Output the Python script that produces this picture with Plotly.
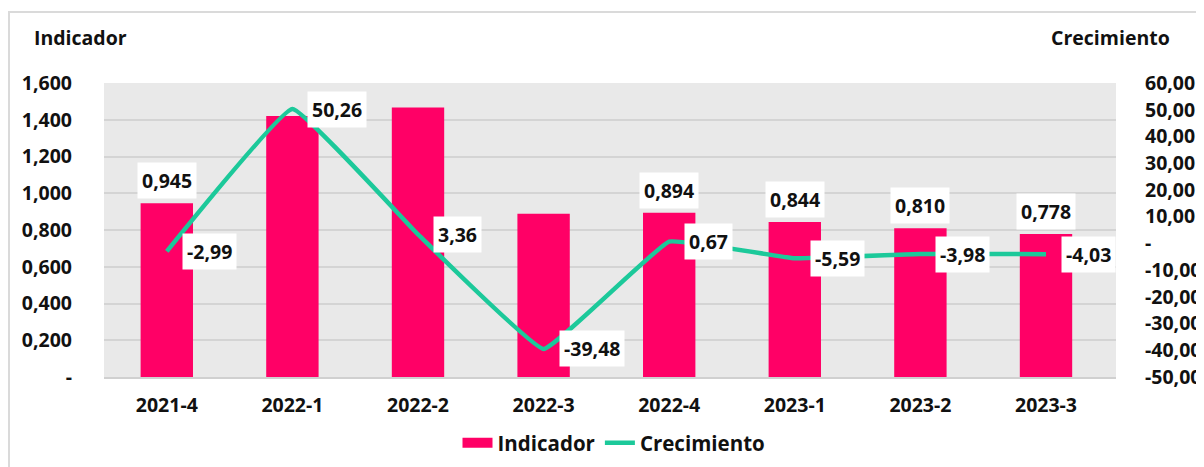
import plotly.graph_objects as go

categories = ["2021-4", "2022-1", "2022-2", "2022-3", "2022-4", "2023-1", "2023-2", "2023-3"]
indicador = [0.945, 1.420, 1.467, 0.888, 0.894, 0.844, 0.810, 0.778]
crecimiento = [-2.99, 50.26, 3.36, -39.48, 0.67, -5.59, -3.98, -4.03]
bar_label_show = [True, False, False, False, True, True, True, True]

left_ticks = [0, 0.2, 0.4, 0.6, 0.8, 1.0, 1.2, 1.4, 1.6]
left_ticktext = ["-", "0,200", "0,400", "0,600", "0,800", "1,000", "1,200", "1,400", "1,600"]
right_ticks = [-50, -40, -30, -20, -10, 0, 10, 20, 30, 40, 50, 60]
right_ticktext = ["-50,00", "-40,00", "-30,00", "-20,00", "-10,00", "-",
                  "10,00", "20,00", "30,00", "40,00", "50,00", "60,00"]

PINK = "#FF0066"
TEAL = "#1CC99A"
FONT = "Open Sans"
FS = 19.5
TF = dict(family=FONT, size=FS, color="#111", weight="bold")

# plot area in page pixels (page has an 8px body margin)
PL, PR, PT, PB = 104, 1116, 83, 377
OFF = 8
PW, PH = PR - PL, PB - PT

def px(x):
    return (x - PL) / PW

def py(y):
    return (PB - y) / PH

fig = go.Figure()
fig.add_trace(go.Bar(x=categories, y=indicador, name="Indicador", showlegend=False,
                     marker=dict(color=PINK, line=dict(width=0)), yaxis="y"))
fig.add_trace(go.Scatter(x=[None], y=[None], name="Indicador", mode="lines",
                         line=dict(color=PINK, width=13), yaxis="y"))
fig.add_trace(go.Scatter(x=categories, y=crecimiento, name="Crecimiento", mode="lines",
                         line=dict(color=TEAL, width=4.5, shape="spline", smoothing=0.25),
                         yaxis="y2"))

annotations = []
for c, v, s in zip(categories, indicador, bar_label_show):
    if s:
        annotations.append(dict(x=c, y=v, xref="x", yref="y", text=f"{v:.3f}".replace(".", ","),
                                showarrow=False, yanchor="bottom", yshift=4, bgcolor="white",
                                borderpad=4, font=TF))
for c, v in zip(categories, crecimiento):
    annotations.append(dict(x=c, y=v, xref="x", yref="y2", text=f"{v:.2f}".replace(".", ","),
                            showarrow=False, xanchor="left", yanchor="middle", xshift=15,
                            bgcolor="white", borderpad=4, font=TF))
annotations.append(dict(x=px(32), y=py(38), xref="paper", yref="paper",
                        text="Indicador", showarrow=False, xanchor="left", yanchor="middle", font=TF))
annotations.append(dict(x=px(1049), y=py(38), xref="paper", yref="paper",
                        text="Crecimiento", showarrow=False, xanchor="left", yanchor="middle", font=TF))

fig.update_layout(
    width=1204, height=467,
    margin=dict(l=PL - OFF, r=1204 - (PR - OFF), t=PT - OFF, b=467 - (PB - OFF), autoexpand=False),
    paper_bgcolor="white",
    plot_bgcolor="#E9E9E9",
    bargap=0.583,
    font=TF,
    showlegend=True,
    legend=dict(orientation="h", x=px(614), xanchor="center", y=py(443), yanchor="middle",
                font=dict(family=FONT, size=20.5, color="#111", weight="bold"),
                bgcolor="rgba(0,0,0,0)"),
    xaxis=dict(type="category", showgrid=False, showline=True, linecolor="#D0D0D0",
               linewidth=1.5, ticks="", ticklabelstandoff=10, automargin=False, tickfont=TF),
    yaxis=dict(range=[0, 1.6], tickvals=left_ticks, ticktext=left_ticktext,
               showgrid=True, gridcolor="#D4D4D4", gridwidth=1.5, zeroline=False,
               ticks="", ticklabelstandoff=31, automargin=False, tickfont=TF),
    yaxis2=dict(range=[-50, 60], tickvals=right_ticks, ticktext=right_ticktext,
                overlaying="y", side="right", showgrid=False, zeroline=False,
                ticks="", ticklabelstandoff=28, automargin=False, tickfont=TF),
    annotations=annotations,
    shapes=[dict(type="rect", xref="paper", yref="paper",
                 x0=px(9), x1=px(1240), y0=py(520), y1=py(12),
                 line=dict(color="#DADADA", width=2), fillcolor="rgba(0,0,0,0)", layer="below")],
)

fig.write_html("out.html")
